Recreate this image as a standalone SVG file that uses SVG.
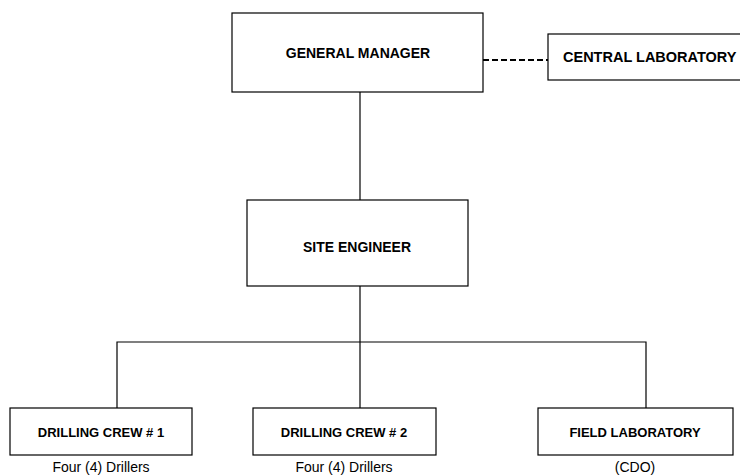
<svg xmlns="http://www.w3.org/2000/svg" width="740" height="476" viewBox="0 0 740 476">
<style>
.box{fill:#fff;stroke:#000;stroke-width:1.2}
.t{font-family:"Liberation Sans",Arial,sans-serif;font-weight:bold;font-size:14px;fill:#000;text-anchor:middle}
.tb{font-family:"Liberation Sans",Arial,sans-serif;font-weight:bold;font-size:13px;fill:#000;text-anchor:middle}
.s{font-family:"Liberation Sans",Arial,sans-serif;font-size:14px;fill:#000;text-anchor:middle}
.ln{stroke:#000;stroke-width:1.2;fill:none}
.dash{stroke:#000;stroke-width:2;fill:none;stroke-dasharray:6 3}
</style>
<rect width="740" height="476" fill="#fff"/>
<g id="connectors">
<line class="ln" x1="360" y1="92" x2="360" y2="200"/>
<line class="ln" x1="360" y1="286" x2="360" y2="408"/>
<polyline class="ln" points="117,408 117,342 646,342 646,408"/>
<line class="dash" x1="483" y1="60" x2="548" y2="60"/>
</g>
<g id="general-manager">
<rect class="box" x="232" y="13" width="251" height="79"/>
<text class="t" x="358" y="58">GENERAL MANAGER</text>
</g>
<g id="central-laboratory">
<rect class="box" x="548" y="34" width="200" height="46"/>
<text class="t" x="563" y="62" style="text-anchor:start;font-size:14.5px">CENTRAL LABORATORY</text>
</g>
<g id="site-engineer">
<rect class="box" x="247" y="200" width="221" height="86"/>
<text class="t" x="357" y="252">SITE ENGINEER</text>
</g>
<g id="drilling-crew-1">
<rect class="box" x="10" y="408" width="182" height="47"/>
<text class="tb" x="101" y="437">DRILLING CREW # 1</text>
<text class="s" x="101" y="472">Four (4) Drillers</text>
</g>
<g id="drilling-crew-2">
<rect class="box" x="253" y="408" width="183" height="47"/>
<text class="tb" x="344" y="437">DRILLING CREW # 2</text>
<text class="s" x="344" y="472">Four (4) Drillers</text>
</g>
<g id="field-laboratory">
<rect class="box" x="538" y="408" width="195" height="47"/>
<text class="tb" x="635" y="437">FIELD LABORATORY</text>
<text class="s" x="635" y="472">(CDO)</text>
</g>
</svg>
